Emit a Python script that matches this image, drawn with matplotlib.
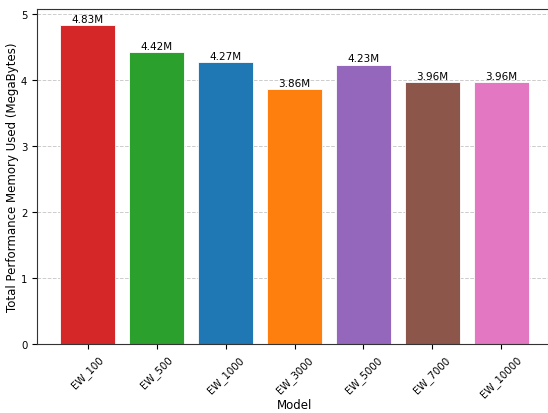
import matplotlib
matplotlib.use('Agg')
import matplotlib.pyplot as plt

# Data
models = ['EW_100', 'EW_500', 'EW_1000', 'EW_3000', 'EW_5000', 'EW_7000', 'EW_10000']
memory = [4.83, 4.42, 4.27, 3.86, 4.23, 3.96, 3.96]
colors = ['#d62728', '#2ca02c', '#1f77b4', '#ff7f0e', '#9467bd', '#8c564b', '#e377c2']

fig = plt.figure(figsize=(5.48, 4.14), dpi=100)
ax = fig.add_axes([37 / 548, 69 / 414, 515 / 548, 335 / 414])

bars = ax.bar(models, memory, color=colors, width=0.8, edgecolor='white', linewidth=0.6)
for b, v in zip(bars, memory):
    ax.text(b.get_x() + b.get_width() / 2, v + 0.02, f'{v:.2f}M',
            ha='center', va='bottom', fontsize=7.5)

ax.set_xlabel('Model', fontsize=8.5, labelpad=-1)
ax.set_ylabel('Total Performance Memory Used (MegaBytes)', fontsize=8.5, labelpad=1)
ax.tick_params(axis='both', labelsize=7.3)
plt.setp(ax.get_xticklabels(), rotation=45)
ax.yaxis.grid(True, linestyle='--', color='#cccccc', linewidth=0.7)
ax.set_axisbelow(True)
for s in ax.spines.values():
    s.set_color('#333333')

fig.savefig('out.png', dpi=100)
